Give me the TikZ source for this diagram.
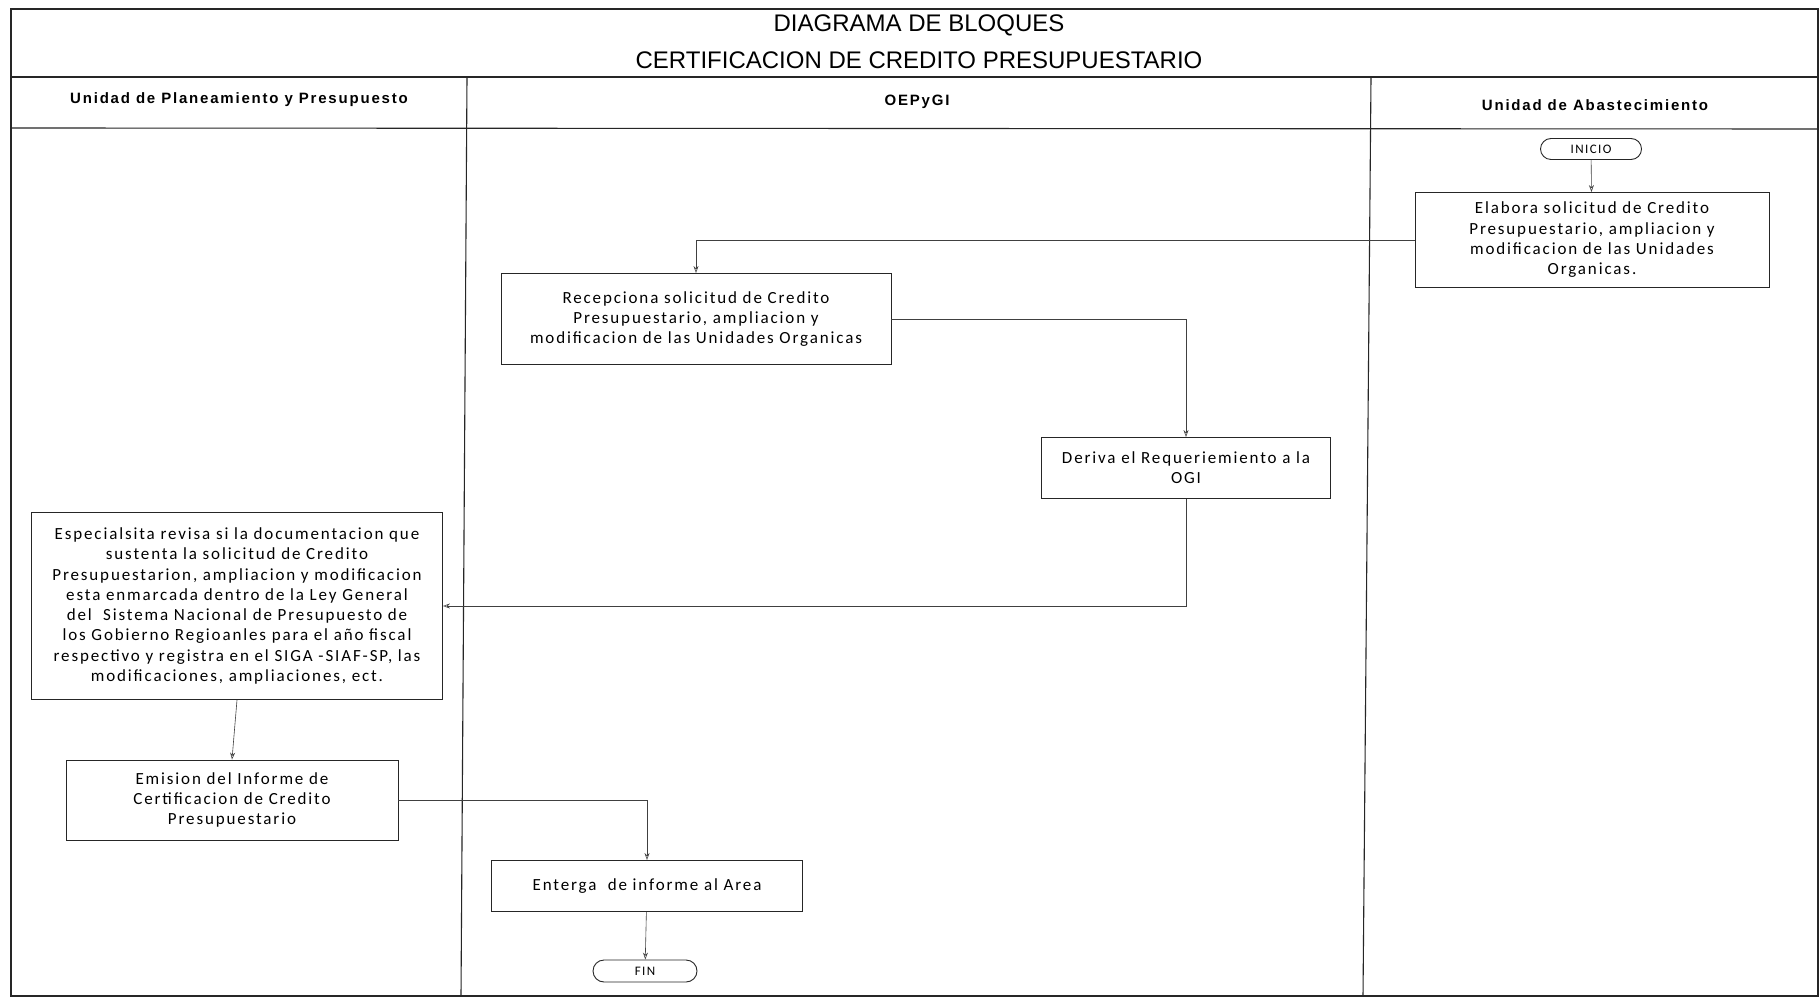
\documentclass[tikz,border=0pt]{standalone}
\usepackage{fontspec}
\setmainfont{Carlito}[LetterSpace=11]
\newfontfamily\arial{Liberation Sans}
\newfontfamily\arialwide{Liberation Sans}[LetterSpace=12]
\usetikzlibrary{arrows.meta,shapes.misc}
\begin{document}
\begin{tikzpicture}[x=1pt,y=-1pt,
  frame/.style={line width=1.1pt,draw=black!85},
  stepbox/.style={draw=black!85,line width=0.9pt,align=center,inner sep=0pt,
    font=\fontsize{17}{20.3}\selectfont},
  term/.style={draw=black!85,line width=0.9pt,rounded rectangle,inner sep=0pt,
    font=\fontsize{13}{15}\selectfont},
  lane/.style={font=\arialwide\bfseries\fontsize{15}{17}\selectfont},
  title/.style={font=\arial\fontsize{24}{27}\selectfont},
  arr/.style={draw=black!75,line width=0.6pt,-{Stealth[length=7pt,width=5pt,open]}}]
\useasboundingbox (0,0) rectangle (1820,1000);
\fill[white] (0,0) rectangle (1820,1000);

% frame, title band, lane header and lane dividers
\draw[frame] (11,9) rectangle (1818,996);
\draw[frame] (11,77) -- (1818,77);
\draw[frame] (11,128) -- (1818,129);
\draw[frame] (467,77) -- (461,996);
\draw[frame] (1371,77) -- (1363,996);

\node[title] (t1) at (919,25) {DIAGRAMA DE BLOQUES};
\node[title] (t2) at (919,60) {CERTIFICACION DE CREDITO PRESUPUESTARIO};

\node[lane] (h1) at (239,100) {Unidad de Planeamiento y Presupuesto};
\node[lane] (h2) at (917,102) {OEPyGI};
\node[lane] (h3) at (1595,105) {Unidad de Abastecimiento};

% process steps
\node[term,minimum width=101pt,minimum height=21pt] (inicio) at (1591,149) {INICIO};
\node[stepbox,minimum width=354pt,minimum height=95pt,text width=340pt] (elab) at (1592,240)
  {Elabora solicitud de Credito\\Presupuestario, ampliacion y\\modificacion de las Unidades\\Organicas.};
\node[stepbox,minimum width=390pt,minimum height=91pt,text width=380pt] (recep) at (696,319)
  {Recepciona solicitud de Credito\\Presupuestario, ampliacion y\\modificacion de las Unidades Organicas};
\node[stepbox,minimum width=289pt,minimum height=61pt,text width=280pt] (deriva) at (1186,468)
  {Deriva el Requeriemiento a la\\OGI};
\node[stepbox,minimum width=411pt,minimum height=187pt,text width=405pt] (espec) at (237,606)
  {Especialsita revisa si la documentacion que\\sustenta la solicitud de Credito\\Presupuestarion, ampliacion y modificacion\\esta enmarcada dentro de la Ley General\\del \ Sistema Nacional de Presupuesto de\\los Gobierno Regioanles para el año fiscal\\respectivo y registra en el SIGA -SIAF-SP, las\\modificaciones, ampliaciones, ect.};
\node[stepbox,minimum width=332pt,minimum height=80pt,text width=320pt] (emision) at (232,800)
  {Emision del Informe de\\Certificacion de Credito\\Presupuestario};
\node[stepbox,minimum width=311pt,minimum height=51pt,text width=300pt] (entrega) at (647,886)
  {Enterga \ de informe al Area};
\node[term,minimum width=104pt,minimum height=22pt] (fin) at (645,971) {FIN};

% flow
\draw[arr] (inicio) -- (elab);
\draw[arr] (elab.west) -| (recep.north);
\draw[arr] (recep.east) -| (deriva.north);
\draw[arr] (deriva.south) |- (espec.east);
\draw[arr] (espec.south) -- (emision.north);
\draw[arr] (emision.east) -| (entrega.north);
\draw[arr] (entrega) -- (fin);
\end{tikzpicture}
\end{document}
